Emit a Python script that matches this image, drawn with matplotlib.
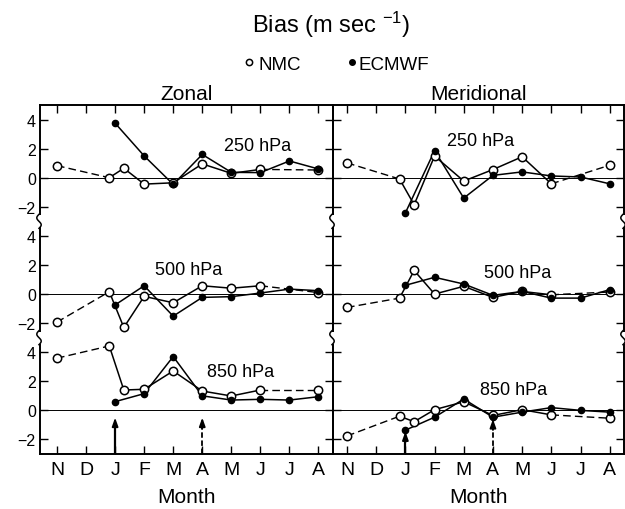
import numpy as np
import matplotlib
matplotlib.use("Agg")
import matplotlib.pyplot as plt
from matplotlib.lines import Line2D
from matplotlib.patches import Rectangle

plt.rcParams['font.family'] = ['Liberation Sans', 'DejaVu Sans']
plt.rcParams['mathtext.fontset'] = 'custom'
plt.rcParams['mathtext.rm'] = 'Liberation Sans'
plt.rcParams['mathtext.default'] = 'regular'

# ---- data ----
months = ['N', 'D', 'J', 'F', 'M', 'A', 'M', 'J', 'J', 'A']
levels = ['250 hPa', '500 hPa', '850 hPa']

nmc_x = [0, 1.8, 2.3, 3, 4, 5, 6, 7, 9]
ecmwf_x = [2, 3, 4, 5, 6, 7, 8, 9]

zonal_nmc_250 = [0.83, 0.0, 0.65, -0.44, -0.35, 0.95, 0.3, 0.57, 0.53]
zonal_nmc_500 = [-1.93, 0.16, -2.3, -0.16, -0.6, 0.57, 0.4, 0.57, 0.1]
zonal_nmc_850 = [3.59, 4.43, 1.4, 1.45, 2.71, 1.33, 0.99, 1.4, 1.4]
zonal_ecmwf_250 = [3.75, 1.5, -0.46, 1.6, 0.37, 0.35, 1.15, 0.6]
zonal_ecmwf_500 = [-0.75, 0.57, -1.52, -0.23, -0.18, 0.07, 0.34, 0.23]
zonal_ecmwf_850 = [0.6, 1.15, 3.7, 1.0, 0.71, 0.76, 0.71, 0.94]

merid_nmc_250 = [1.02, -0.09, -1.86, 1.49, -0.23, 0.56, 1.44, -0.42, 0.86]
merid_nmc_500 = [-0.92, -0.28, 1.62, 0.0, 0.53, -0.23, 0.18, -0.05, 0.14]
merid_nmc_850 = [-1.76, -0.4, -0.78, 0.05, 0.59, -0.35, 0.05, -0.31, -0.54]
merid_ecmwf_250 = [-2.42, 1.86, -1.4, 0.16, 0.4, 0.12, 0.05, -0.42]
merid_ecmwf_500 = [0.6, 1.15, 0.69, -0.09, 0.18, -0.28, -0.28, 0.3]
merid_ecmwf_850 = [-1.36, -0.47, 0.78, -0.47, -0.12, 0.19, 0.0, -0.12]

# arrows at the 850 hPa level (month index, tip value, dashed?)
arrow_x = [2, 5]
zonal_arrow_tip = [-0.5, -0.5]
merid_arrow_tip = [-1.45, -0.6]
arrow_dashed = [False, True]

zonal_label_pos = [(6.9, 2.2), (4.53, 1.7), (6.33, 2.7)]
merid_label_pos = [(4.57, 2.56), (5.84, 1.48), (5.72, 1.46)]

panels = [
    dict(title='Zonal', nmc=[zonal_nmc_250, zonal_nmc_500, zonal_nmc_850],
         ecmwf=[zonal_ecmwf_250, zonal_ecmwf_500, zonal_ecmwf_850],
         tips=zonal_arrow_tip, labels=zonal_label_pos,
         left=40, width=293, xlim=(-0.585, 9.5)),
    dict(title='Meridional', nmc=[merid_nmc_250, merid_nmc_500, merid_nmc_850],
         ecmwf=[merid_ecmwf_250, merid_ecmwf_500, merid_ecmwf_850],
         tips=merid_arrow_tip, labels=merid_label_pos,
         left=333, width=291, xlim=(-0.48, 9.49)),
]

W, H = 625, 510
fig = plt.figure(figsize=(W / 100, H / 100), dpi=100)

top_px, bot_px = 106, 455
seg_h = (bot_px - top_px) / 3.0


def fx(px):
    return px / W


def fy(py):
    return 1 - py / H


def squiggle(xpx, ypx):
    # cut the spine and draw a small S-shaped break mark
    fig.add_artist(Rectangle((fx(xpx - 1.5), fy(ypx + 6)), 3 / W, 12 / H,
                             transform=fig.transFigure, facecolor='white',
                             edgecolor='none', zorder=20))
    t = np.linspace(0, 1, 30)
    xs = xpx - 1.0 + 2.2 * np.sin(2 * np.pi * t)
    ys = ypx + 7 - 14 * t
    fig.add_artist(Line2D(fx(xs), fy(ys), transform=fig.transFigure,
                          color='black', lw=1.1, zorder=21))


for pi, p in enumerate(panels):
    for li in range(3):
        y0 = top_px + li * seg_h
        ax = fig.add_axes([fx(p['left']), fy(y0 + seg_h), p['width'] / W, seg_h / H])
        ax.set_xlim(*p['xlim'])
        ax.set_ylim(-3, 5)
        ax.patch.set_alpha(0)
        for s in ax.spines.values():
            s.set_linewidth(1.4)
        if li != 0:
            ax.spines['top'].set_visible(False)
        if li != 2:
            ax.spines['bottom'].set_visible(False)
        ax.axhline(0, color='black', lw=0.7, zorder=1)

        ax.set_yticks([-2, 0, 2, 4])
        ax.tick_params(axis='y', direction='in', length=6, width=1,
                       left=True, right=True, labelleft=(pi == 0),
                       labelsize=11.5, pad=3)
        ax.set_xticks(range(len(months)))
        ax.tick_params(axis='x', direction='in', length=6, width=1,
                       top=(li == 0), bottom=(li == 2),
                       labelbottom=(li == 2), labelsize=14, pad=5)
        if li == 2:
            ax.set_xticklabels(months)

        nmc = p['nmc'][li]
        ecm = p['ecmwf'][li]
        ax.plot(ecmwf_x, ecm, '-', color='black', lw=1.1, zorder=3)
        ax.plot(nmc_x[:2], nmc[:2], color='black', lw=1.0, dashes=(5.5, 3), zorder=3)
        ax.plot(nmc_x[1:-1], nmc[1:-1], '-', color='black', lw=1.1, zorder=3)
        ax.plot(nmc_x[-2:], nmc[-2:], color='black', lw=1.0, dashes=(5.5, 3), zorder=3)
        ax.plot(ecmwf_x, ecm, 'o', color='black', ms=4.5, zorder=5)
        ax.plot(nmc_x, nmc, 'o', mfc='white', mec='black', mew=1.1, ms=6, zorder=4)

        lx, ly = p['labels'][li]
        ax.text(lx, ly, levels[li], ha='center', va='center', fontsize=13)

        if li == 2:
            for ax_x, tip, dashed in zip(arrow_x, p['tips'], arrow_dashed):
                if dashed:
                    ax.plot([ax_x, ax_x], [-3, tip - 0.6], color='black', lw=1.3,
                            dashes=(3, 1.5), zorder=2)
                else:
                    ax.plot([ax_x, ax_x], [-3, tip - 0.6], color='black', lw=1.6, zorder=2)
                ax.annotate('', xy=(ax_x, tip), xytext=(ax_x, tip - 0.75),
                            arrowprops=dict(arrowstyle='-|>,head_length=0.5,head_width=0.18',
                                            color='black', lw=1.3, shrinkA=0, shrinkB=0),
                            zorder=2)

    fig.text(fx(p['left'] + p['width'] / 2), fy(100), p['title'],
             ha='center', va='baseline', fontsize=15)
    fig.text(fx(p['left'] + p['width'] / 2), fy(503), 'Month',
             ha='center', va='baseline', fontsize=15)

# break marks on the left, shared and right spines
for xpx in [40, 333, 624]:
    for k in [1, 2]:
        squiggle(xpx, top_px + k * seg_h)

fig.text(fx(331), fy(33), 'Bias (m sec $^{-1}$)', ha='center', va='baseline',
         fontsize=17)

# legend row
fig.add_artist(Line2D([fx(249)], [fy(63)], transform=fig.transFigure, marker='o',
                      mfc='white', mec='black', mew=1.1, ms=4.5, ls='none'))
fig.text(fx(258), fy(70), 'NMC', ha='left', va='baseline', fontsize=13.5)
fig.add_artist(Line2D([fx(352)], [fy(63)], transform=fig.transFigure, marker='o',
                      color='black', ms=4, ls='none'))
fig.text(fx(359), fy(70), 'ECMWF', ha='left', va='baseline', fontsize=13.5)

fig.savefig('out.png', dpi=100)
